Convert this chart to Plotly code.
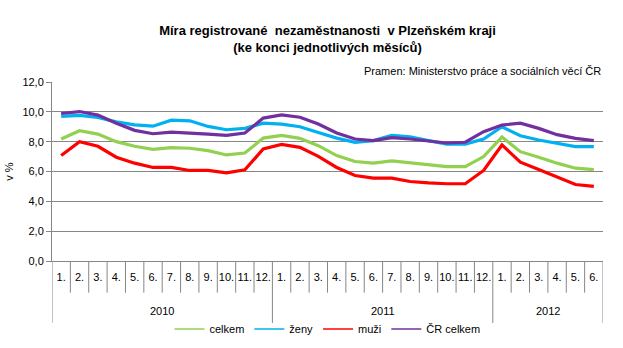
import plotly.graph_objects as go

# ---- data ----
year_labels = ["2010", "2011", "2012"]
months_per_year = [12, 12, 6]
month_labels = ["1.", "2.", "3.", "4.", "5.", "6.", "7.", "8.", "9.", "10.", "11.", "12.",
                "1.", "2.", "3.", "4.", "5.", "6.", "7.", "8.", "9.", "10.", "11.", "12.",
                "1.", "2.", "3.", "4.", "5.", "6."]

celkem = [8.18, 8.73, 8.51, 8.00, 7.69, 7.49, 7.60, 7.56, 7.40, 7.11, 7.24, 8.24,
          8.42, 8.22, 7.73, 7.07, 6.67, 6.56, 6.71, 6.58, 6.44, 6.33, 6.33, 7.00,
          8.31, 7.33, 6.96, 6.56, 6.22, 6.13]
zeny = [9.69, 9.76, 9.62, 9.33, 9.13, 9.04, 9.44, 9.40, 9.02, 8.80, 8.89, 9.24,
        9.18, 9.00, 8.62, 8.24, 7.96, 8.07, 8.42, 8.33, 8.07, 7.84, 7.84, 8.18,
        9.00, 8.40, 8.11, 7.89, 7.67, 7.67]
muzi = [7.07, 8.00, 7.69, 6.96, 6.56, 6.27, 6.27, 6.07, 6.07, 5.91, 6.11, 7.51,
        7.82, 7.62, 7.02, 6.27, 5.73, 5.56, 5.56, 5.33, 5.24, 5.18, 5.18, 6.07,
        7.78, 6.62, 6.13, 5.62, 5.13, 5.00]
cr_celkem = [9.89, 10.02, 9.78, 9.24, 8.76, 8.53, 8.64, 8.60, 8.51, 8.42, 8.58, 9.58,
             9.80, 9.64, 9.18, 8.58, 8.18, 8.07, 8.27, 8.18, 8.02, 7.91, 7.96, 8.67,
             9.11, 9.24, 8.89, 8.47, 8.22, 8.07]

series_names = ["celkem", "ženy", "muži", "ČR celkem"]
series_values = [celkem, zeny, muzi, cr_celkem]
series_colors = ["#92D050", "#00B0F0", "#FF0000", "#7030A0"]

y_ticks = [0, 2, 4, 6, 8, 10, 12]
y_ticktext = ["0,0", "2,0", "4,0", "6,0", "8,0", "10,0", "12,0"]

FONT = "Liberation Sans, Arial, sans-serif"
GRID = "#868686"

x = list(range(len(month_labels)))

fig = go.Figure()
for name, vals, col in zip(series_names, series_values, series_colors):
    fig.add_trace(go.Scatter(x=x, y=vals, mode="lines", name=name,
                             line=dict(color=col, width=3.2), showlegend=False,
                             hoverinfo="skip"))
# legend entries (thin lines as in the reference legend)
for name, col in zip(series_names, series_colors):
    fig.add_trace(go.Scatter(x=[None], y=[None], mode="lines", name=name,
                             line=dict(color=col, width=1.3), showlegend=True))

# category separators below the axis
shapes = []
n = len(month_labels)
year_bounds = [-0.5]
acc = -0.5
for m in months_per_year:
    acc += m
    year_bounds.append(acc)
for i in range(n + 1):
    b = i - 0.5
    is_year = any(abs(b - yb) < 1e-9 for yb in year_bounds)
    shapes.append(dict(type="line", xref="x", yref="paper", x0=b, x1=b,
                       y0=0, y1=(-0.346 if is_year else -0.177),
                       line=dict(color=GRID, width=1)))

annotations = []
start = 0
for lab, m in zip(year_labels, months_per_year):
    annotations.append(dict(x=start + (m - 1) / 2, y=-0.277, xref="x", yref="paper",
                            text=lab, showarrow=False, yanchor="middle",
                            font=dict(size=11, color="#000000", family=FONT)))
    start += m
annotations.append(dict(x=1.0, y=1.06, xref="paper", yref="paper", xanchor="right",
                        yanchor="middle", showarrow=False,
                        text="Pramen: Ministerstvo práce a sociálních věcí ČR",
                        font=dict(size=11, color="#000000", family=FONT)))

fig.update_layout(
    width=623, height=348,
    margin=dict(l=52, r=20, t=82, b=87, autoexpand=False),
    paper_bgcolor="white", plot_bgcolor="white",
    font=dict(family=FONT, size=11, color="#000000"),
    title=dict(text="<b>Míra registrované  nezaměstnanosti  v Plzeňském kraji<br>(ke konci jednotlivých měsíců)</b>",
               x=0.5, xref="paper", xanchor="center",
               y=1 - 35 / 348, yref="container", yanchor="middle",
               font=dict(size=13, family=FONT, color="#000000")),
    xaxis=dict(range=[-0.5, n - 0.5], tickmode="array", tickvals=x, ticktext=month_labels,
               showgrid=False, zeroline=False, showline=True, linecolor=GRID, linewidth=1,
               ticks="", ticklabelstandoff=6, tickfont=dict(size=11)),
    yaxis=dict(range=[0, 12], tickmode="array", tickvals=y_ticks, ticktext=y_ticktext,
               showgrid=True, gridcolor=GRID, gridwidth=1, zeroline=False,
               showline=True, linecolor=GRID, linewidth=1, ticks="outside", ticklen=5,
               tickcolor=GRID, tickfont=dict(size=11),
               title=dict(text="v %", standoff=6, font=dict(size=11))),
    legend=dict(orientation="h", x=0.5, xanchor="center", y=-0.38, yanchor="middle",
                font=dict(size=11), bgcolor="rgba(0,0,0,0)", itemwidth=30,
                tracegroupgap=0),
    shapes=shapes, annotations=annotations,
)

fig.write_html("out.html")
